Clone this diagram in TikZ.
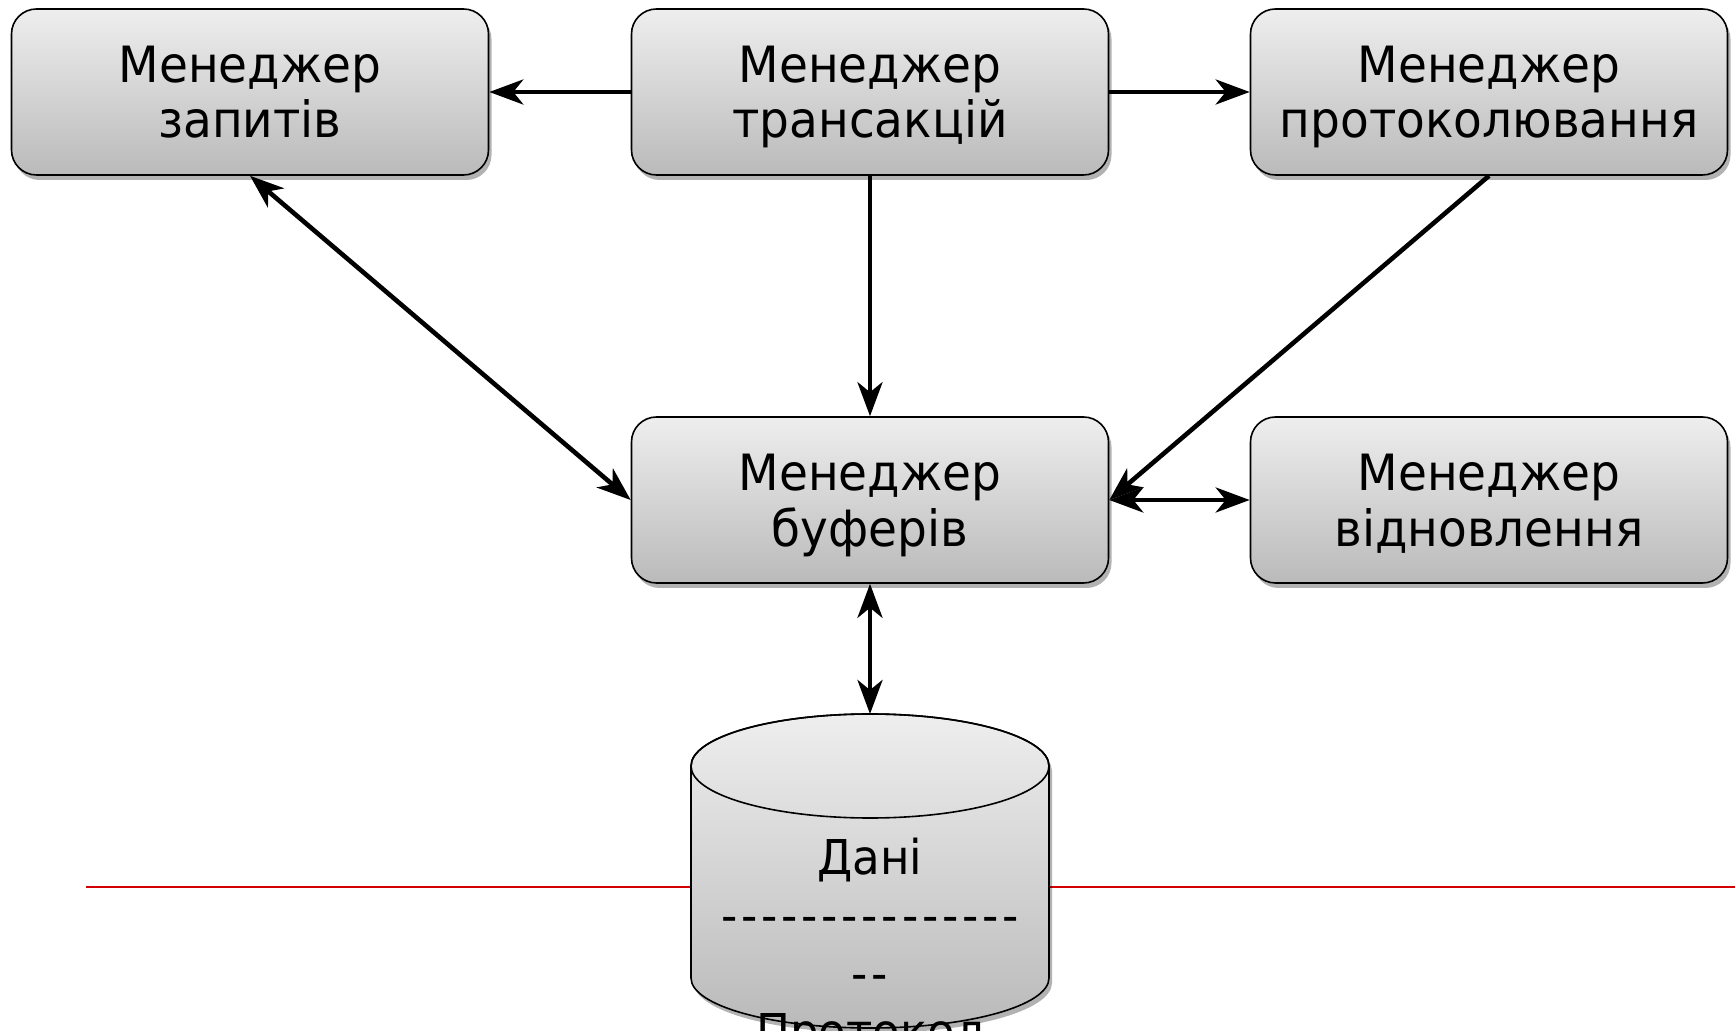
\documentclass[tikz,border=0pt]{standalone}
\usepackage{fontspec}
\setmainfont{DejaVu Sans}[FakeStretch=0.94]
\usetikzlibrary{arrows.meta,shadows}
\definecolor{boxtop}{RGB}{238,238,238}
\definecolor{boxbot}{RGB}{186,186,186}
\definecolor{redline}{RGB}{210,0,0}
\newcommand\dashseg{\kern0.95pt-\kern0.95pt}
\begin{document}
\begin{tikzpicture}[x=0.5pt,y=-0.5pt,
  shad/.style={drop shadow={shadow xshift=1.5pt,shadow yshift=-2.5pt,opacity=0.3,fill=black}},
  mgr/.style={draw=black, line width=0.8pt, rounded corners=12.5pt,
    top color=boxtop, bottom color=boxbot, shad,
    minimum width=238.5pt, minimum height=83pt, inner sep=0pt,
    align=center, font=\fontsize{25}{28}\selectfont},
  conn/.style={line width=2.3pt, -{Stealth[length=17pt,width=12.5pt,inset=5pt]}},
  conntwo/.style={line width=2.3pt, {Stealth[length=17pt,width=12.5pt,inset=5pt]}-{Stealth[length=17pt,width=12.5pt,inset=5pt]}}
]
\useasboundingbox (0,0) rectangle (1735,1031);

% red line behind the cylinder
\draw[redline, line width=0.8pt] (86,887) -- (1735,887);

% boxes
\node[mgr] (zap) at (250,92) {\vphantom{Й}Менеджер\\\vphantom{р}запитів};
\node[mgr] (tra) at (870,92) {\vphantom{Й}Менеджер\\\vphantom{р}трансакцій};
\node[mgr] (pro) at (1489,92) {\vphantom{Й}Менеджер\\\vphantom{р}протоколювання};
\node[mgr] (buf) at (870,500) {\vphantom{Й}Менеджер\\\vphantom{р}буферів};
\node[mgr] (vid) at (1489,500) {\vphantom{Й}Менеджер\\\vphantom{р}відновлення};

% cylinder
\path[draw=black, line width=0.8pt, top color=boxtop, bottom color=boxbot, shad]
  (691,766) -- (691,978) arc[start angle=180, end angle=0, x radius=179, y radius=50]
  -- (1049,766) arc[start angle=0, end angle=-180, x radius=179, y radius=52] -- cycle;
\draw[line width=0.8pt] (870,766) ellipse[x radius=179, y radius=52];
\coordinate (dbtop) at (870,714);
\node[anchor=north, align=center, inner sep=0pt, font=\fontsize{24}{29}\selectfont] (db) at (870,838)
  {Дані\\\dashseg\dashseg\dashseg\dashseg\dashseg\dashseg\dashseg\dashseg\dashseg\dashseg\dashseg\dashseg\dashseg\dashseg\dashseg\\\dashseg\dashseg\\Протокол};

% connectors
\draw[conn] (tra.west) -- (zap.east);
\draw[conn] (tra.east) -- (pro.west);
\draw[conn] (tra.south) -- (buf.north);
\draw[conntwo] (zap.south) -- (buf.west);
\draw[conn] (pro.south) -- (buf.east);
\draw[conntwo] (buf.east) -- (vid.west);
\draw[conntwo] (buf.south) -- (dbtop);
\end{tikzpicture}
\end{document}
